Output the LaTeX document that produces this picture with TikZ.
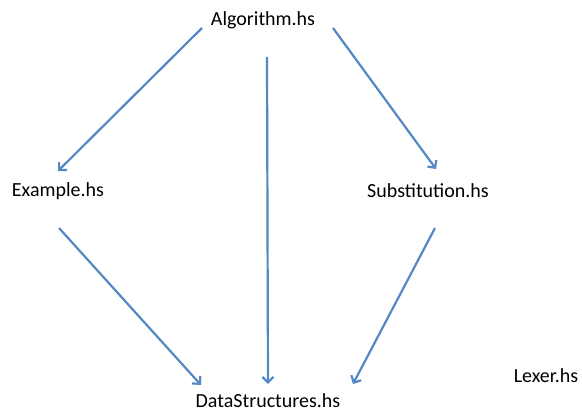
\documentclass[tikz,border=0pt]{standalone}
\usepackage{fontspec}
\setmainfont{Carlito}
\usetikzlibrary{arrows.meta}
\definecolor{arrowblue}{RGB}{84,136,196}
\tikzset{
  lbl/.style={inner sep=0pt, font=\fontsize{20}{24}\selectfont, text=black},
  dep/.style={draw=arrowblue, line width=2.2pt, -{Straight Barb[length=5.5pt,width=11pt,line width=2.2pt]}}
}
\begin{document}
\begin{tikzpicture}[x=1pt,y=-1pt]
\useasboundingbox (0,0) rectangle (582,414);
\node[lbl] (alg) at (263,20) {Algorithm.hs};
\node[lbl] (ex) at (58,191) {Example.hs};
\node[lbl] (sub) at (428,191) {Substitution.hs};
\node[lbl] (ds) at (268,401) {DataStructures.hs};
\node[lbl] (lex) at (546,376) {Lexer.hs};
\coordinate (a1) at (202,28);
\coordinate (e1) at (58,171);
\coordinate (a2) at (333,28);
\coordinate (s1) at (436,169);
\coordinate (a3) at (267,57);
\coordinate (d3) at (268,384);
\coordinate (e2) at (59,228);
\coordinate (d1) at (201,385);
\coordinate (s2) at (435,228);
\coordinate (d2) at (353,384);
\draw[dep] (a1) -- (e1);
\draw[dep] (a2) -- (s1);
\draw[dep] (a3) -- (d3);
\draw[dep] (e2) -- (d1);
\draw[dep] (s2) -- (d2);
\end{tikzpicture}
\end{document}
